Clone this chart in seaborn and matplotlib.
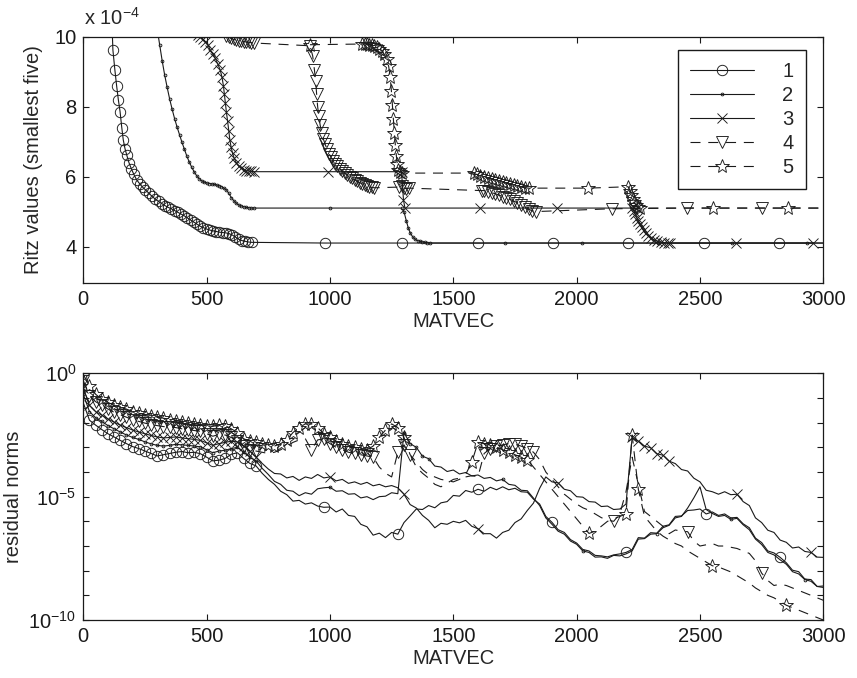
import numpy as np
import matplotlib
matplotlib.use("Agg")
import matplotlib.pyplot as plt
import seaborn as sns
from matplotlib.ticker import FixedLocator, NullFormatter

# ---------------- data: Ritz values (units of 1e-4) ----------------
RITZ_X1 = [115, 120, 128, 135, 142, 149, 156, 162, 169, 176, 185, 195, 205, 216, 228, 240, 252, 265, 278, 291,
           305, 318, 331, 344, 357, 370, 383, 396, 409, 422, 435, 448, 461, 474, 487, 500, 513, 526, 539, 552,
           565, 578, 591, 604, 617, 630, 643, 656, 669, 682, 980, 1290, 1600, 1905, 2210, 2517, 2822, 3130]
RITZ_Y1 = [10.6, 9.62, 9.05, 8.60, 8.20, 7.86, 7.40, 7.05, 6.80, 6.62, 6.40, 6.22, 6.06, 5.91, 5.80, 5.70, 5.62, 5.53, 5.44, 5.36,
           5.29, 5.23, 5.17, 5.12, 5.08, 5.03, 4.98, 4.93, 4.88, 4.82, 4.76, 4.70, 4.64, 4.58, 4.54, 4.50, 4.47, 4.45, 4.43, 4.41,
           4.40, 4.39, 4.37, 4.33, 4.27, 4.21, 4.17, 4.15, 4.13, 4.12, 4.10, 4.10, 4.10, 4.10, 4.10, 4.10, 4.10, 4.10]

RITZ_X2 = [300, 310, 320, 330, 340, 350, 360, 370, 380, 390, 400, 410, 420, 430, 440, 450, 460, 470, 480, 490,
           500, 510, 520, 530, 540, 550, 560, 570, 580, 590, 600, 610, 620, 630, 640, 650, 660, 670, 680, 690,
           1000, 1290, 1300, 1310, 1318, 1326, 1335, 1345, 1355, 1365, 1375, 1385, 1395, 1405,
           1709, 2020, 2330, 2628, 2933, 3240]
RITZ_Y2 = [10.2, 9.75, 9.30, 8.90, 8.55, 8.22, 7.93, 7.66, 7.42, 7.20, 6.98, 6.78, 6.58, 6.41, 6.26, 6.13, 6.02, 5.94, 5.88, 5.84,
           5.82, 5.80, 5.79, 5.78, 5.76, 5.74, 5.71, 5.67, 5.62, 5.52, 5.40, 5.31, 5.24, 5.19, 5.16, 5.14, 5.12, 5.11, 5.10, 5.10,
           5.10, 5.10, 5.00, 4.72, 4.52, 4.38, 4.28, 4.21, 4.17, 4.15, 4.13, 4.12, 4.11, 4.10,
           4.10, 4.10, 4.10, 4.10, 4.10, 4.10]

RITZ_X3 = [465, 475, 485, 495, 505, 515, 525, 535, 545, 555, 562, 568, 572, 576, 580, 585, 590, 594, 599, 605,
           612, 620, 630, 640, 650, 660, 670, 680, 690, 993, 1290, 1298, 1304, 1608, 1919, 2225,
           2232, 2238, 2244, 2250, 2257, 2264, 2272, 2280, 2290, 2300, 2312, 2325, 2340, 2355, 2370, 2380,
           2648, 2960]
RITZ_Y3 = [10.05, 9.98, 9.92, 9.85, 9.76, 9.62, 9.50, 9.38, 9.22, 9.05, 8.85, 8.60, 8.35, 8.10, 7.85, 7.58, 7.30, 7.05, 6.85, 6.67,
           6.52, 6.40, 6.30, 6.24, 6.20, 6.17, 6.16, 6.15, 6.14, 6.14, 6.14, 5.33, 5.10, 5.10, 5.10, 5.10,
           5.02, 4.92, 4.82, 4.74, 4.64, 4.55, 4.46, 4.38, 4.31, 4.25, 4.20, 4.16, 4.13, 4.11, 4.10, 4.10,
           4.10, 4.10]

RITZ_X4 = [580, 590, 600, 610, 620, 630, 640, 650, 660, 670, 680, 690,
           919, 930, 937, 942, 946, 950, 955, 960, 966, 973, 980, 988, 996, 1004, 1012, 1020, 1030, 1040, 1050, 1060,
           1070, 1080, 1090, 1100, 1110, 1120, 1130, 1140, 1150, 1160, 1170, 1180,
           1280, 1290, 1300, 1310, 1320,
           1615, 1625, 1640, 1655, 1670, 1685, 1700, 1715, 1730, 1745, 1760, 1775, 1790, 1805, 1820, 1835,
           2142, 2446, 2750, 3055]
RITZ_Y4 = [10.02, 9.98, 9.95, 9.92, 9.90, 9.88, 9.87, 9.86, 9.85, 9.84, 9.83, 9.82,
           9.74, 9.45, 9.05, 8.72, 8.35, 8.00, 7.72, 7.48, 7.26, 7.08, 6.93, 6.79, 6.66, 6.55, 6.45, 6.37, 6.29, 6.22, 6.16, 6.10,
           6.05, 6.00, 5.95, 5.91, 5.87, 5.83, 5.79, 5.76, 5.73, 5.71, 5.69, 5.68,
           5.70, 5.74, 5.68, 5.65, 5.67,
           5.60, 5.60, 5.57, 5.54, 5.51, 5.47, 5.43, 5.39, 5.35, 5.30, 5.25, 5.19, 5.13, 5.07, 5.02, 5.00,
           5.08, 5.10, 5.10, 5.10]

RITZ_X5 = [919, 1130, 1140, 1150, 1160, 1170, 1180, 1190, 1200, 1210, 1220, 1230, 1238, 1244, 1249, 1253, 1257, 1261,
           1265, 1269, 1273, 1277, 1282, 1290,
           1582, 1595, 1610, 1625, 1640, 1655, 1670, 1685, 1700, 1715, 1730, 1745, 1760, 1775, 1790, 1805,
           2047, 2209, 2216, 2222, 2228, 2234, 2240, 2248, 2256, 2554, 2858, 3160]
RITZ_Y5 = [9.77, 9.79, 9.79, 9.78, 9.77, 9.75, 9.73, 9.70, 9.66, 9.60, 9.50, 9.35, 9.15, 8.85, 8.45, 8.05, 7.65, 7.25,
           6.90, 6.60, 6.35, 6.18, 6.12, 6.10,
           6.10, 6.06, 6.02, 5.99, 5.96, 5.93, 5.90, 5.87, 5.84, 5.81, 5.78, 5.75, 5.72, 5.70, 5.68, 5.67,
           5.67, 5.71, 5.60, 5.48, 5.36, 5.26, 5.18, 5.12, 5.10, 5.10, 5.10, 5.10]

# ---------------- data: residual norms (log10) on MATVEC grid ----------------
RES_X = list(range(0, 3001, 25))
RES_LOG1 = [-1.20, -1.90, -2.10, -2.28, -2.45, -2.58, -2.72, -2.85, -2.97, -3.05,
            -3.15, -3.25, -3.35, -3.30, -3.25, -3.20, -3.17, -3.22, -3.20, -3.26,
            -3.40, -3.55, -3.52, -3.45, -3.28, -3.22, -3.45, -3.65, -3.75, -4.05,
            -4.30, -4.50, -4.78, -4.92, -5.18, -5.15, -5.30, -5.25, -5.38, -5.43,
            -5.42, -5.62, -5.50, -5.76, -5.80, -6.12, -6.22, -6.56, -6.48, -6.66,
            -6.45, -6.52, -6.05, -5.78, -5.50, -5.52, -5.36, -5.45, -5.25, -5.20,
            -4.95, -4.98, -4.75, -4.82, -4.70, -4.78, -4.62, -4.72, -4.60, -4.72,
            -4.66, -4.80, -4.82, -5.10, -5.30, -5.80, -6.04, -6.34, -6.45, -6.74,
            -6.88, -7.14, -7.20, -7.38, -7.40, -7.44, -7.36, -7.32, -7.26, -7.14,
            -6.66, -6.68, -6.46, -6.48, -6.20, -6.14, -5.80, -5.78, -5.56, -5.54,
            -5.50, -5.70, -5.62, -5.76, -5.70, -5.86, -5.84, -6.10, -6.26, -6.68,
            -6.86, -7.20, -7.28, -7.46, -7.68, -7.98, -8.04, -8.34, -8.36, -8.64,
            -8.62]
RES_LOG2 = [-0.85, -1.55, -1.80, -1.95, -2.12, -2.25, -2.38, -2.50, -2.60, -2.68,
            -2.78, -2.86, -2.92, -2.95, -2.92, -2.88, -2.90, -2.92, -2.95, -2.98,
            -3.10, -3.22, -3.15, -3.12, -3.05, -3.00, -3.20, -3.40, -3.55, -3.85,
            -4.10, -4.38, -4.50, -4.74, -4.78, -4.96, -4.84, -4.90, -4.68, -4.64,
            -4.62, -4.78, -4.76, -4.90, -4.88, -5.05, -5.00, -5.12, -5.00, -4.98,
            -4.84, -4.88, -2.40, -2.85, -3.00, -3.36, -3.46, -3.76, -3.80, -3.98,
            -3.92, -4.08, -4.02, -4.16, -4.12, -4.26, -4.22, -4.36, -4.30, -4.50,
            -4.54, -4.74, -4.76, -5.06, -5.36, -5.86, -6.12, -6.40, -6.52, -6.80,
            -6.93, -7.20, -7.26, -7.45, -7.44, -7.50, -7.38, -7.40, -7.32, -7.20,
            -6.72, -6.70, -6.52, -6.50, -6.26, -6.16, -5.86, -5.80, -5.46, -5.05,
            -4.60, -5.52, -5.68, -5.80, -5.76, -5.92, -5.88, -6.14, -6.34, -6.72,
            -6.94, -7.26, -7.36, -7.56, -7.74, -8.04, -8.13, -8.36, -8.43, -8.64,
            -8.68]
RES_LOG3 = [-0.60, -1.30, -1.55, -1.70, -1.85, -1.98, -2.10, -2.20, -2.30, -2.38,
            -2.45, -2.52, -2.58, -2.62, -2.60, -2.58, -2.62, -2.65, -2.68, -2.72,
            -2.82, -2.92, -2.85, -2.80, -2.75, -2.78, -2.95, -3.15, -3.40, -3.65,
            -3.88, -4.06, -4.08, -4.24, -4.18, -4.34, -4.20, -4.26, -4.10, -4.24,
            -4.20, -4.36, -4.30, -4.46, -4.40, -4.50, -4.42, -4.56, -4.50, -4.60,
            -4.55, -4.64, -4.90, -5.32, -5.46, -5.76, -5.96, -6.26, -6.08, -6.12,
            -6.00, -6.06, -5.96, -6.20, -6.30, -6.50, -6.50, -6.68, -6.45, -6.36,
            -6.05, -5.90, -5.56, -5.26, -4.66, -4.20, -4.40, -4.44, -4.70, -4.76,
            -5.00, -5.02, -5.20, -5.22, -5.40, -5.38, -5.52, -5.50, -5.30, -2.60,
            -2.75, -2.95, -3.02, -3.26, -3.32, -3.56, -3.66, -3.90, -3.96, -4.25,
            -4.40, -4.74, -4.80, -4.90, -4.80, -4.92, -4.90, -5.20, -5.36, -5.86,
            -6.05, -6.36, -6.45, -6.76, -6.85, -7.08, -7.04, -7.22, -7.26, -7.45,
            -7.46]
RES_LOG4 = [-0.30, -0.90, -1.15, -1.30, -1.45, -1.58, -1.68, -1.78, -1.88, -1.95,
            -2.02, -2.08, -2.12, -2.16, -2.18, -2.20, -2.25, -2.28, -2.32, -2.35,
            -2.45, -2.55, -2.48, -2.50, -2.60, -2.75, -2.95, -3.10, -3.15, -3.20,
            -3.25, -3.20, -3.10, -2.95, -2.80, -2.70, -2.65, -3.10, -2.70, -2.65,
            -2.85, -3.00, -3.10, -3.20, -3.25, -3.30, -3.35, -3.40, -3.80, -4.05,
            -4.20, -3.20, -2.90, -3.30, -3.80, -4.05, -4.25, -4.50, -4.60, -4.45,
            -4.30, -4.25, -4.20, -4.15, -4.19, -3.25, -3.05, -2.95, -2.90, -2.85,
            -2.88, -2.95, -3.05, -3.20, -3.50, -4.00, -4.30, -4.60, -4.90, -5.10,
            -5.30, -5.45, -5.55, -5.70, -5.85, -5.95, -6.00, -5.70, -4.80, -3.40,
            -4.50, -5.60, -5.80, -6.00, -6.20, -6.50, -6.35, -6.40, -6.42, -6.80,
            -7.00, -6.95, -6.90, -7.00, -7.00, -7.05, -7.10, -7.20, -7.30, -7.60,
            -8.10, -8.40, -8.60, -8.55, -8.60, -8.70, -8.80, -8.90, -9.00, -9.10,
            -9.20]
RES_LOG5 = [-0.05, -0.50, -0.85, -1.05, -1.18, -1.30, -1.38, -1.45, -1.55, -1.62,
            -1.68, -1.72, -1.78, -1.82, -1.88, -1.92, -1.97, -2.00, -2.05, -2.08,
            -2.12, -2.15, -2.10, -2.12, -2.25, -2.40, -2.65, -2.75, -2.80, -2.85,
            -2.90, -2.95, -2.85, -2.70, -2.40, -2.20, -2.05, -2.05, -2.20, -2.45,
            -2.60, -2.75, -2.85, -2.95, -3.00, -3.05, -3.10, -2.95, -2.60, -2.30,
            -2.05, -2.20, -2.60, -3.30, -3.60, -3.90, -4.10, -4.20, -4.30, -4.35,
            -4.40, -4.30, -4.10, -3.60, -2.80, -2.85, -2.90, -3.00, -3.10, -3.20,
            -3.30, -3.40, -3.50, -3.80, -4.10, -4.40, -4.70, -5.00, -5.30, -5.60,
            -5.90, -6.20, -6.49, -6.40, -6.20, -6.00, -5.90, -5.80, -5.70, -2.50,
            -4.70, -5.80, -6.10, -6.40, -6.60, -6.75, -6.90, -7.00, -7.20, -7.35,
            -7.50, -7.65, -7.80, -7.85, -7.95, -8.05, -8.20, -8.35, -8.50, -8.70,
            -8.85, -9.00, -9.10, -9.25, -9.40, -9.50, -9.60, -9.70, -9.80, -9.90,
            -10.0]

LEGEND_LABELS = ["1", "2", "3", "4", "5"]
X_TICKS = [0, 500, 1000, 1500, 2000, 2500, 3000]
RITZ_TICKS = [4, 6, 8, 10]

# ---------------- style ----------------
sns.set_theme(style="white")
plt.rcParams['font.family'] = ['Liberation Sans', 'DejaVu Sans']
plt.rcParams['mathtext.fontset'] = 'custom'
plt.rcParams['mathtext.rm'] = 'Liberation Sans'
plt.rcParams['mathtext.it'] = 'Liberation Sans:italic'
plt.rcParams['mathtext.bf'] = 'Liberation Sans:bold'
plt.rcParams['axes.unicode_minus'] = True

FS = 14.5
STYLES = [
    dict(marker='o', markersize=7.5, linestyle='-'),
    dict(marker='.', markersize=4.0, linestyle='-'),
    dict(marker='x', markersize=6.5, linestyle='-'),
    dict(marker='v', markersize=8.0, linestyle='--'),
    dict(marker='*', markersize=10.0, linestyle='--'),
]

fig = plt.figure(figsize=(8.57, 6.78), dpi=100)
ax1 = fig.add_axes([0.0972, 0.5822, 0.8635, 0.3637])
ax2 = fig.add_axes([0.0972, 0.0855, 0.8635, 0.3639])


def draw(ax, x, y, st, label=None, markevery=None):
    sns.lineplot(x=x, y=y, ax=ax, color='k', sort=False, estimator=None, legend=False,
                 lw=0.8, mfc='none', mec='k', mew=0.65, label=label,
                 markevery=markevery, **st)
    ln = ax.lines[-1]
    if st['linestyle'] == '--':
        ln.set_dashes([9, 7])
    return ln


# top panel
top_x = [RITZ_X1, RITZ_X2, RITZ_X3, RITZ_X4, RITZ_X5]
top_y = [RITZ_Y1, RITZ_Y2, RITZ_Y3, RITZ_Y4, RITZ_Y5]
handles = []
for xs, ys, st, lab in zip(top_x, top_y, STYLES, LEGEND_LABELS):
    handles.append(draw(ax1, xs, ys, st, label=lab))

ax1.set_xlim(0, 3000)
ax1.set_ylim(2.95, 10)
ax1.set_xticks(X_TICKS)
ax1.set_yticks(RITZ_TICKS)
ax1.set_xlabel("MATVEC", fontsize=FS, labelpad=2)
ax1.set_ylabel("Ritz values (smallest five)", fontsize=FS, labelpad=8)
fig.text(84 / 857, 1 - 25 / 678, r"x 10$^{-4}$", fontsize=FS, ha='left', va='baseline')

leg = ax1.legend(handles=handles, labels=LEGEND_LABELS, loc='upper right',
                 bbox_to_anchor=(0.976, 0.946), borderaxespad=0, fontsize=FS,
                 frameon=True, fancybox=False, framealpha=1, edgecolor='k',
                 handlelength=3.2, handletextpad=1.4, labelspacing=0.25,
                 borderpad=0.6, numpoints=1)
leg.get_frame().set_linewidth(1.0)

# bottom panel
bot_logs = [RES_LOG1, RES_LOG2, RES_LOG3, RES_LOG4, RES_LOG5]
marks = [
    list(range(0, 29)) + [39, 51, 64, 76, 88, 101, 113],
    list(range(0, 29)) + [40, 52, 53, 54, 55, 56, 68, 81, 93, 105, 117],
    list(range(0, 29)) + [40, 52, 64, 77] + list(range(89, 96)) + [106, 118],
    list(range(0, 29)) + list(range(37, 48)) + [51, 52, 53] + list(range(65, 74)) + [86, 98, 110],
    list(range(0, 53)) + list(range(63, 73)) + [82, 88, 89, 90, 102, 114],
]
for lg, st, mk in zip(bot_logs, STYLES, marks):
    draw(ax2, RES_X, list(10.0 ** np.array(lg)), st, markevery=mk)

ax2.set_yscale('log')
ax2.set_xlim(0, 3000)
ax2.set_ylim(1e-10, 1)
ax2.set_xticks(X_TICKS)
ax2.yaxis.set_major_locator(FixedLocator([1e-10, 1e-5, 1e0]))
ax2.yaxis.set_minor_locator(FixedLocator([10.0 ** -k for k in [1, 2, 3, 4, 6, 7, 8, 9]]))
ax2.yaxis.set_minor_formatter(NullFormatter())
ax2.set_xlabel("MATVEC", fontsize=FS, labelpad=2)
ax2.set_ylabel("residual norms", fontsize=FS, labelpad=4)

for ax in (ax1, ax2):
    ax.set_facecolor('white')
    for sp in ax.spines.values():
        sp.set_color('k')
        sp.set_linewidth(0.9)
        sp.set_visible(True)
    ax.tick_params(which='both', direction='in', top=True, right=True, bottom=True, left=True,
                   length=4.5, width=0.8, color='k', labelsize=FS, labelcolor='k', pad=5)
    ax.grid(False)

fig.savefig("out.png", dpi=100, facecolor='white')
